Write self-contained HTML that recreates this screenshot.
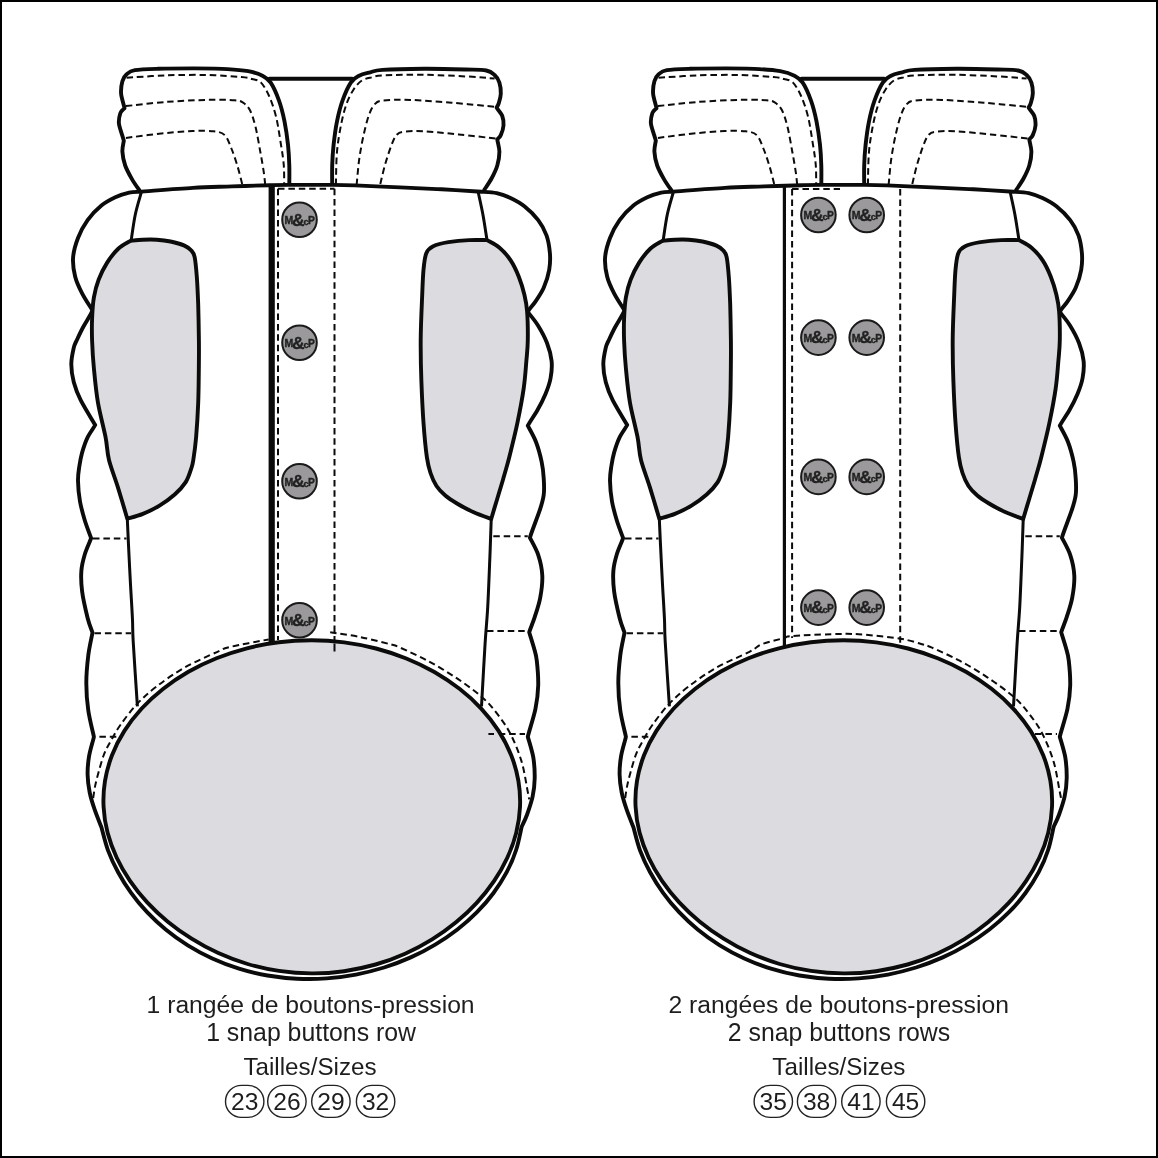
<!DOCTYPE html>
<html lang="fr"><head><meta charset="utf-8"><title>Boutons-pression</title>
<style>
html,body{margin:0;padding:0;background:#fff}
body{width:1158px;height:1158px;overflow:hidden;position:relative}
#frame{position:absolute;left:0;top:0;width:1154px;height:1154px;border:2px solid #000}
svg{position:absolute;left:0;top:0;display:block;will-change:transform}
.ol{stroke:#0b0b0b;stroke-width:3.9;stroke-linejoin:round;stroke-linecap:round}
path.ol:not([fill]){fill:none}
.il{stroke:#0b0b0b;stroke-width:3;fill:none;stroke-linecap:butt}
.ds{stroke:#0b0b0b;stroke-width:2;fill:none;stroke-dasharray:6.5 3.9}
.tx{font-family:"Liberation Sans",sans-serif;font-size:24.6px;fill:#1d1d1d}
.bt{font-family:"Liberation Sans",sans-serif;font-weight:bold;fill:#222;stroke:#222;stroke-width:.35}
</style></head><body>
<svg width="1158" height="1158" viewBox="0 0 1158 1158">
<g id="boot1">
<path d="M139.5 190.5C138.3 188.7 134.5 183.6 132.1 179.4C129.7 175.2 126.8 170.1 125.2 165.5C123.6 160.9 122.6 155.8 122.4 151.7C122.2 147.6 123.6 142.5 123.8 140.7C123 136.8 119.6 128.5 119 124.1C118.4 119.7 119.5 115.7 120.4 113C121.3 110.3 123.8 109 124.5 108.2C123.9 104.6 121.4 98 121.1 93.7C120.8 89.5 121.5 84.5 122.4 81.3C123.3 78.1 124.5 76.1 126.6 74.3C128.7 72.5 129.6 71.1 134.9 70.2C140.2 69.3 148.7 69.1 158.4 68.8C168.1 68.5 181.4 68.4 192.9 68.4C204.4 68.5 218.2 68.6 227.4 69.1C236.6 69.6 242.4 70.1 248.2 71.2C254 72.3 258.6 73.8 262.4 75.7C266.1 77.6 267.9 78.4 270.7 82.6C273.5 86.8 276.7 94.1 279 100.6C281.3 107 283 113.9 284.5 121.3C286 128.7 287.2 137.4 288 144.8C288.8 152.2 289.1 158.6 289.3 165.5C289.5 172.4 289.3 182.6 289.3 186" class="ol" fill="#fff"/>
<path d="M332.2 186C332.2 182.6 332 172.4 332.2 165.5C332.4 158.6 332.8 152.2 333.6 144.8C334.4 137.4 335.5 128.7 337 121.3C338.5 113.9 340.2 107 342.5 100.6C344.8 94.1 348 86.8 350.8 82.6C353.6 78.4 355.9 77.4 359.1 75.7C362.3 74 366.3 73.3 370.2 72.3C374.1 71.3 373.6 70.5 382.6 69.9C391.6 69.3 410.3 68.9 424.1 68.8C437.9 68.7 455.1 69.2 465.5 69.5C475.9 69.8 481.4 69.6 486.3 70.5C491.2 71.4 492.4 73 494.6 75C496.8 77 498.4 79.5 499.4 82.6C500.4 85.7 500.9 90.2 500.8 93.7C500.7 97.2 499.4 101.1 498.7 103.4C498 105.7 497 106.8 496.6 107.5C497.5 109.5 501.1 112.9 502.2 115.8C503.3 118.7 503.7 122.3 503.5 125.5C503.3 128.7 501.8 132.8 500.8 135.1C499.8 137.4 497.9 138.6 497.3 139.3C497.6 142.5 499.4 147.6 499.4 151.7C499.4 155.8 498.6 161.1 497.3 165.5C496 169.9 494 173.9 491.8 178C489.6 182.1 485.5 188 484.2 190" class="ol" fill="#fff"/>
<path d="M269.5 78.8H352.2" class="ol"/>
<path d="M126.6 77.8C133.1 77.4 152 75.9 165.3 75.4C178.7 74.9 194 74.7 206.7 75C219.4 75.3 233.8 76.4 241.3 77.1C248.9 77.8 248.7 78.1 252 79C255.3 79.9 258.1 79.7 261 82.6C263.9 85.5 266.8 90.7 269.3 96.5C271.8 102.3 274.2 109.2 276.2 117.2C278.1 125.2 279.7 136.8 281 144.8C282.3 152.9 283.3 158.8 283.8 165.5C284.3 172.2 284.1 181.8 284.2 185" class="ds"/>
<path d="M125.9 106.1C132.5 105.4 151.8 103 165.3 102C178.8 101 195.2 100.2 206.7 99.9C218.2 99.6 228.3 99.8 234.4 100.3C240.5 100.8 240.5 101 243.1 102.7C245.7 104.4 247.9 106.3 250 110.3C252.1 114.3 253.8 119.9 255.5 126.8C257.2 133.7 258.9 144.1 260.3 151.7C261.7 159.3 263 166.8 263.8 172.4C264.6 178 265 182.9 265.2 185" class="ds"/>
<path d="M125.9 137.9C132.5 137.1 154.1 134.2 165.3 133.1C176.5 131.9 184.9 131.3 192.9 131C200.9 130.7 208.3 130.6 213.6 131.3C218.9 132 221.7 132.2 224.7 135.1C227.7 138 229.5 143.9 231.6 149C233.7 154.1 235.5 159.7 237.3 165.5C239.1 171.3 241.4 180.9 242.2 184" class="ds"/>
<path d="M335.9 185C336.1 179.4 336.1 161.8 337 151.7C337.9 141.5 339.6 132.1 341.2 124.1C342.8 116 344.6 109.2 346.7 103.4C348.8 97.6 351.1 93.3 353.6 89.5C356.1 85.7 358.8 82.5 361.9 80.5C365 78.5 368.6 78.1 372 77.3C375.4 76.5 373.9 75.8 382.6 75.4C391.3 75 410.3 74.6 424.1 74.8C437.9 75 453.8 75.8 465.5 76.4C477.2 77 489.8 78.2 494.6 78.5" class="ds"/>
<path d="M356.6 185C357.1 180.6 358.1 166.9 359.3 158.6C360.5 150.3 362 142.3 363.6 135.1C365.2 127.9 367 120.5 368.8 115.5C370.6 110.5 372 107.3 374.3 104.8C376.6 102.3 376.6 101.4 382.6 100.6C388.6 99.8 398.8 99.6 410.3 99.9C421.8 100.2 437.6 101.6 451.7 102.7C465.8 103.8 487.5 106.1 494.6 106.8" class="ds"/>
<path d="M380.3 184C381.1 180.6 383.5 170 385.4 163.5C387.3 157 389.8 149.5 391.6 144.8C393.5 140.1 394.5 137.3 396.5 135.1C398.5 132.9 398.8 132.3 403.4 131.7C408 131.1 414.9 130.9 424.1 131.3C433.3 131.8 446.6 133.2 458.6 134.4C470.6 135.6 489.7 137.9 495.9 138.6" class="ds"/>
<path d="M139.4 191.7C137.7 191.9 133.1 191.8 129.1 192.7C125.1 193.6 119.9 195.2 115.3 197.3C110.7 199.5 106 201.8 101.4 205.6C96.8 209.4 91.5 214.7 87.6 220.1C83.7 225.5 80.4 231.8 78 238C75.6 244.2 73.6 250.9 73.1 257.4C72.6 263.8 73.7 270.7 75.2 276.7C76.7 282.7 79.2 287.7 82.1 293.3C85 298.9 90.8 307.6 92.5 310.5C91 314.4 86.1 321.8 83.5 326.5C80.9 331.2 78.5 336.5 76.9 340C75.3 343.5 74.7 343.6 73.8 347.6C72.9 351.6 71.3 358.4 71.3 364.2C71.3 370 72.2 376.2 73.8 382.2C75.4 388.2 77.1 393 80.7 400.1C84.3 407.2 92.8 420.9 95.2 425C93.9 427.6 89.8 432.9 87.6 437.4C85.4 441.9 83.5 447.8 82.1 452.6C80.7 457.5 80 461.8 79.3 466.5C78.6 471.2 77.9 474.9 78 480.7C78.1 486.5 78.8 494.8 80 501.5C81.2 508.2 83.1 514.7 84.9 520.8C86.8 526.9 90.1 535.2 91.1 538.1C90.1 541.3 86.5 548.7 84.9 554C83.3 559.3 81.9 564.3 81.4 570.5C80.9 576.7 81.1 583.4 82.1 591.3C83.1 599.2 85.9 611.1 87.6 618C89.3 624.9 91.7 630.1 92.5 632.5C91.8 636.9 89.3 647 88.3 655.3C87.3 663.6 86.3 673.7 86.3 682.9C86.3 692.1 87 701.5 88.3 710.5C89.6 719.5 93 732.4 93.9 736.8C93.1 740.7 90 750.4 89 756.6C88 762.8 87.5 768.5 87.6 774.5C87.7 780.5 88.5 786.7 89.7 792.5C90.9 798.3 92.5 803.3 94.5 809.1C96.5 814.9 100.3 824.4 101.5 827.5C102.6 831.3 105.3 842.9 108 850.3C110.8 857.8 114.2 865.1 118.1 872.2C121.9 879.2 126.3 886.2 131.1 892.8C135.9 899.5 141.3 906 147.1 912.2C152.9 918.3 159.2 924.3 166 929.8C172.8 935.4 180.1 940.6 187.8 945.4C195.5 950.2 203.7 954.6 212.3 958.5C220.8 962.4 229.8 965.8 239 968.6C248.2 971.5 257.8 973.8 267.5 975.5C277.1 977.1 287.1 978.2 296.9 978.7C306.8 979.2 316.8 979.1 326.7 978.4C336.5 977.7 346.4 976.4 355.9 974.6C365.5 972.7 375 970.3 384.1 967.5C393.2 964.6 402.2 961.2 410.7 957.4C419.2 953.6 427.4 949.3 435.2 944.6C443 940 450.5 934.9 457.4 929.5C464.4 924.1 471 918.3 477 912.2C483 906.1 488.6 899.7 493.5 893C498.5 886.3 502.9 879.3 506.7 872.2C510.5 865 513.7 857.6 516.1 850C518.6 842.5 520.7 830.8 521.6 827C522.5 824.9 525.3 819.6 527.1 814.5C528.9 809.4 531.3 802.6 532.6 796.6C533.9 790.6 534.6 784.7 534.7 778.2C534.8 771.7 534.4 764.3 533.3 757.4C532.1 750.5 528.7 740.2 527.8 736.7C529.1 730.9 533.7 717.4 535.4 709.1C537.1 700.8 538 693.7 538.2 685.6C538.4 677.5 537.5 667 536.8 660.7C536.1 654.4 535.3 652.7 534 648C532.7 643.3 530 634.9 529.2 632.3C530.1 629.2 532.9 622.7 534.7 617.1C536.5 611.5 538.9 604.7 540.2 597.8C541.5 590.9 542.6 582.9 542.3 575.7C542 568.6 540.3 561.2 538.2 554.9C536.1 548.6 531.3 540.6 529.9 537.7C531.5 532 537.3 517.6 539.6 510.7C541.9 503.8 543 500.4 543.7 495C544.4 489.6 544.1 483.8 543.7 478.2C543.4 472.6 542.9 467.6 541.6 461.6C540.3 455.6 538.4 448.2 536.1 442.2C533.8 436.2 529.2 428.4 527.8 425.7C529.4 422.5 534.5 415.2 537.5 410C540.5 404.8 543.3 399.3 545.5 394C547.7 388.7 549.6 383.5 550.6 378C551.6 372.5 552.2 366.8 551.6 361C551 355.2 549.3 348.9 547 343C544.7 337.1 541.2 330.7 538 325.5C534.8 320.3 529.5 314.2 527.8 312C529.1 309 532.8 305.4 535.4 301.6C538 297.8 541.4 293.1 543.7 287.8C546 282.5 548.2 275.6 549.2 269.8C550.2 264 550.4 258.9 549.9 253.2C549.4 247.4 548.5 240.8 546.5 235.3C544.5 229.8 541.9 224.9 538.2 220.1C534.5 215.3 529 210 524.4 206.3C519.8 202.6 515.1 200.2 510.5 198C505.9 195.8 501.5 194.2 496.7 193.1C491.9 192 484 191.9 481.5 191.7C474.8 191.3 455.1 190 441.5 189.3C427.9 188.6 414.4 188.1 400 187.4C385.6 186.8 366.3 185.8 355 185.4C343.7 185 343 185 332 184.9C321 184.8 299.3 184.9 289 184.9C278.7 184.9 279.5 184.9 270 185.2C260.5 185.4 244.8 185.9 232 186.4C219.2 186.9 208.3 187 192.9 187.9C177.5 188.8 148.3 191.1 139.4 191.7Z" class="ol" fill="#fff"/>
<path d="M130.5 240.8C132.6 240.6 138.5 239.9 142.9 239.7C147.3 239.5 152.1 239.4 156.7 239.7C161.3 240 165.9 240.5 170.5 241.5C175.1 242.5 180.9 244.1 184.4 245.6C187.9 247.1 189.6 248.5 191.3 250.5C193 252.5 193.8 253 194.7 257.4C195.6 261.8 196.2 268.9 196.8 276.7C197.4 284.5 197.8 293.8 198.2 304.4C198.5 314.9 198.8 330.5 198.9 340C199 349.5 199 351 198.9 361.5C198.8 372 198.7 390.2 198.2 402.9C197.7 415.5 196.9 427.9 196.1 437.4C195.3 446.9 194.1 454.9 193.3 460C192.5 465.1 192.6 464.6 191.3 468.3C190 472 188.5 477.7 185.7 482.1C182.9 486.5 179.1 490.6 174.7 494.5C170.3 498.4 164.8 502.4 159.5 505.6C154.2 508.8 148.3 511.7 142.9 513.9C137.5 516.1 129.9 517.9 127.3 518.7C125.8 513.5 121 497.4 118 487.6C115 477.8 111.1 468.4 109 460C106.9 451.6 107.4 446.9 105.6 437.4C103.8 427.9 100 414.4 98 402.9C96 391.4 94.9 378.8 93.9 368.4C92.9 358 92.4 349.1 92.1 340.7C91.8 332.3 91.8 325.4 92.1 318.2C92.4 311 92.8 303.8 93.9 297.4C95 290.9 96.5 285.2 98.7 279.5C100.9 273.8 103.8 268 107 262.9C110.2 257.8 114.1 252.7 118 249C121.9 245.3 128.4 242.2 130.5 240.8Z" class="ol" fill="#dcdbdf"/>
<path d="M487 240.1C484 240.1 475.5 239.8 469.1 240.1C462.7 240.4 454.4 241.2 448.4 242.2C442.4 243.2 436.9 244.5 433.2 246.3C429.5 248.1 427.9 249.3 426.3 253.2C424.7 257.1 424.2 262.4 423.5 269.8C422.8 277.2 422.6 285.7 422.1 297.4C421.6 309.1 420.8 326 420.7 340C420.6 354 420.9 367.7 421.4 381.5C421.9 395.3 422.6 410.2 423.5 422.9C424.4 435.5 425.7 449 426.9 457.4C428.1 465.8 428.9 468.2 430.5 473C432.1 477.8 434 482.2 436.5 486C439 489.8 441.9 492.6 445.3 495.5C448.7 498.4 452.4 500.7 457 503.5C461.6 506.3 467.5 509.5 473.2 512.1C478.9 514.7 488.2 517.9 491.2 519C492.1 515.8 494.9 506.5 496.9 500C498.8 493.5 500.8 487.1 502.9 480C504.9 472.9 506.8 466.9 509.2 457.4C511.6 447.9 515 434.4 517.4 422.9C519.8 411.4 522.2 398.8 523.7 388.4C525.2 378 525.7 368.8 526.4 360.7C527.1 352.6 527.7 348.2 527.8 340C527.9 331.8 527.7 318.9 527.1 311.3C526.5 303.8 525.8 300.5 524.4 294.7C523 288.9 521.1 282.5 518.8 276.7C516.5 270.9 513.7 264.9 510.5 260.1C507.3 255.3 503.4 251 499.5 247.7C495.6 244.4 489.1 241.4 487 240.1Z" class="ol" fill="#dcdbdf"/>
<path d="M141.5 191.7C140.5 195.5 137 206.4 135.3 214.5C133.6 222.6 131.9 235.8 131.2 240" class="il"/>
<path d="M127.3 518.7C127.5 522.7 127.9 532 128.4 542.9C128.9 553.8 129.8 571.5 130.5 584.4C131.2 597.2 132.1 610.5 132.5 620C132.9 629.5 132.4 627.1 133.2 641.5C134 655.9 136.7 695.6 137.4 706.4" class="il"/>
<path d="M478.1 191.7C478.9 195.5 481.4 206.4 482.9 214.5C484.4 222.6 486.3 235.8 487 240" class="il"/>
<path d="M491.2 519.7C491 526.3 490.4 544.5 489.8 559.1C489.2 573.7 488.5 593.1 487.7 607.4C486.9 621.7 486 628.5 485 645C484 661.5 482.1 696.1 481.5 706.3" class="il"/>
<path d="M93 538.5H126.5M94.5 633.2H131M99.4 736.8H118" class="ds"/>
<path d="M493.3 536.3H527.8M487 630.9H527.1M488.4 734H525" class="ds"/>
<path d="M271.7 186V643" stroke="#0b0b0b" stroke-width="6.2" fill="none"/>
<path d="M278 188.7V640" class="ds"/>
<path d="M334.5 188.7V651.5" class="ds"/>
<path d="M278 188.7H334.5" class="ds"/>
<path d="M93.2 798C93.5 795.9 94.3 790 95.2 785.6C96.1 781.2 97.2 777.1 98.7 771.8C100.2 766.5 102.2 758.8 104.2 753.8C106.2 748.8 107.7 746.4 110.5 741.5C113.3 736.6 116.3 730.7 120.8 724.4C125.3 718.1 131.4 709.9 137.4 703.6C143.4 697.3 148.9 692.4 156.7 686.4C164.5 680.4 174.3 673.5 184.4 667.7C194.5 661.9 209.9 655.2 217.5 651.8C225.1 648.3 221.5 649.1 230 647C238.5 644.9 262.2 640.7 268.7 639.4" class="ds"/>
<path d="M330.2 632.2C335.2 633 350 635 360 637C370 639 383.3 642.4 390 644.2C396.7 646 393.7 644.9 400 647.6C406.3 650.4 418.4 655.8 427.6 660.7C436.8 665.7 446.3 671.3 455.3 677.3C464.3 683.3 474.6 690.7 481.5 696.7C488.4 702.7 491.9 707 496.7 713.2C501.5 719.4 506.4 725.9 510.5 734C514.6 742.1 518.7 751.9 521.6 761.6C524.5 771.3 526.5 785.7 527.8 792C529.1 798.3 529 798.1 529.2 799.3" class="ds"/>
<path d="M520 807C519.7 815.7 518.3 824.4 516.2 832.9C514.1 841.3 511 849.7 507.3 857.8C503.6 865.8 499.1 873.7 494 881.2C488.9 888.7 483.1 896 476.7 902.8C470.4 909.7 463.4 916.2 456 922.3C448.5 928.4 440.5 934.2 432.1 939.4C423.6 944.7 414.6 949.5 405.1 953.7C395.7 957.9 385.8 961.6 375.6 964.5C365.4 967.4 354.8 969.7 344.1 971.2C333.4 972.7 322.4 973.5 311.5 973.4C300.6 973.4 289.6 972.5 279 970.9C268.3 969.4 257.7 967 247.6 964C237.5 961 227.6 957.2 218.3 953C208.9 948.8 200 944 191.6 938.7C183.2 933.5 175.2 927.7 167.8 921.7C160.4 915.6 153.5 909.1 147.2 902.3C140.9 895.5 135.1 888.3 130 880.8C124.9 873.4 120.3 865.5 116.6 857.5C112.9 849.5 109.8 841.2 107.6 832.8C105.4 824.4 104 815.6 103.6 807C103.1 798.4 103.6 789.5 105 780.9C106.4 772.3 108.8 763.6 112 755.3C115.2 746.9 119.4 738.7 124.4 730.9C129.3 723.1 135.2 715.6 141.7 708.5C148.2 701.5 155.5 694.8 163.3 688.7C171.1 682.6 179.6 676.9 188.4 671.8C197.3 666.7 206.8 662.2 216.5 658.3C226.3 654.3 236.5 651 246.9 648.3C257.3 645.7 268 643.6 278.8 642.3C289.6 640.9 300.6 640.3 311.5 640.3C322.4 640.3 333.4 641 344.2 642.4C354.9 643.8 365.7 645.8 376 648.5C386.4 651.2 396.6 654.6 406.3 658.5C416 662.4 425.5 667 434.4 672C443.2 677.1 451.7 682.8 459.5 688.8C467.4 694.9 474.7 701.6 481.2 708.6C487.7 715.6 493.6 723.1 498.6 730.9C503.6 738.7 507.9 746.9 511.2 755.2C514.5 763.5 516.9 772.2 518.4 780.8C519.9 789.5 520.4 798.3 520 807Z" class="ol" fill="#dcdbdf"/>
<path d="M334.5 643.5V651.5M488.4 734H494" class="ds" style="stroke-dasharray:none"/>
<g transform="translate(299.5 219.7)"><circle r="17.3" fill="#9b999c" stroke="#1a1a1a" stroke-width="2"/><text class="bt"><tspan x="-14.9" y="4.4" font-size="10.5">M</tspan><tspan x="-7.4" y="5.8" font-size="17.4">&amp;</tspan><tspan x="4.1" y="5.3" font-size="9.3">c</tspan><tspan x="8.5" y="4.4" font-size="10.2">P</tspan></text></g>
<g transform="translate(299.5 342.8)"><circle r="17.3" fill="#9b999c" stroke="#1a1a1a" stroke-width="2"/><text class="bt"><tspan x="-14.9" y="4.4" font-size="10.5">M</tspan><tspan x="-7.4" y="5.8" font-size="17.4">&amp;</tspan><tspan x="4.1" y="5.3" font-size="9.3">c</tspan><tspan x="8.5" y="4.4" font-size="10.2">P</tspan></text></g>
<g transform="translate(299.5 481.3)"><circle r="17.3" fill="#9b999c" stroke="#1a1a1a" stroke-width="2"/><text class="bt"><tspan x="-14.9" y="4.4" font-size="10.5">M</tspan><tspan x="-7.4" y="5.8" font-size="17.4">&amp;</tspan><tspan x="4.1" y="5.3" font-size="9.3">c</tspan><tspan x="8.5" y="4.4" font-size="10.2">P</tspan></text></g>
<g transform="translate(299.5 620.3)"><circle r="17.3" fill="#9b999c" stroke="#1a1a1a" stroke-width="2"/><text class="bt"><tspan x="-14.9" y="4.4" font-size="10.5">M</tspan><tspan x="-7.4" y="5.8" font-size="17.4">&amp;</tspan><tspan x="4.1" y="5.3" font-size="9.3">c</tspan><tspan x="8.5" y="4.4" font-size="10.2">P</tspan></text></g>
</g>
<g id="boot2" transform="translate(532 0)">
<path d="M139.5 190.5C138.3 188.7 134.5 183.6 132.1 179.4C129.7 175.2 126.8 170.1 125.2 165.5C123.6 160.9 122.6 155.8 122.4 151.7C122.2 147.6 123.6 142.5 123.8 140.7C123 136.8 119.6 128.5 119 124.1C118.4 119.7 119.5 115.7 120.4 113C121.3 110.3 123.8 109 124.5 108.2C123.9 104.6 121.4 98 121.1 93.7C120.8 89.5 121.5 84.5 122.4 81.3C123.3 78.1 124.5 76.1 126.6 74.3C128.7 72.5 129.6 71.1 134.9 70.2C140.2 69.3 148.7 69.1 158.4 68.8C168.1 68.5 181.4 68.4 192.9 68.4C204.4 68.5 218.2 68.6 227.4 69.1C236.6 69.6 242.4 70.1 248.2 71.2C254 72.3 258.6 73.8 262.4 75.7C266.1 77.6 267.9 78.4 270.7 82.6C273.5 86.8 276.7 94.1 279 100.6C281.3 107 283 113.9 284.5 121.3C286 128.7 287.2 137.4 288 144.8C288.8 152.2 289.1 158.6 289.3 165.5C289.5 172.4 289.3 182.6 289.3 186" class="ol" fill="#fff"/>
<path d="M332.2 186C332.2 182.6 332 172.4 332.2 165.5C332.4 158.6 332.8 152.2 333.6 144.8C334.4 137.4 335.5 128.7 337 121.3C338.5 113.9 340.2 107 342.5 100.6C344.8 94.1 348 86.8 350.8 82.6C353.6 78.4 355.9 77.4 359.1 75.7C362.3 74 366.3 73.3 370.2 72.3C374.1 71.3 373.6 70.5 382.6 69.9C391.6 69.3 410.3 68.9 424.1 68.8C437.9 68.7 455.1 69.2 465.5 69.5C475.9 69.8 481.4 69.6 486.3 70.5C491.2 71.4 492.4 73 494.6 75C496.8 77 498.4 79.5 499.4 82.6C500.4 85.7 500.9 90.2 500.8 93.7C500.7 97.2 499.4 101.1 498.7 103.4C498 105.7 497 106.8 496.6 107.5C497.5 109.5 501.1 112.9 502.2 115.8C503.3 118.7 503.7 122.3 503.5 125.5C503.3 128.7 501.8 132.8 500.8 135.1C499.8 137.4 497.9 138.6 497.3 139.3C497.6 142.5 499.4 147.6 499.4 151.7C499.4 155.8 498.6 161.1 497.3 165.5C496 169.9 494 173.9 491.8 178C489.6 182.1 485.5 188 484.2 190" class="ol" fill="#fff"/>
<path d="M269.5 78.8H352.2" class="ol"/>
<path d="M126.6 77.8C133.1 77.4 152 75.9 165.3 75.4C178.7 74.9 194 74.7 206.7 75C219.4 75.3 233.8 76.4 241.3 77.1C248.9 77.8 248.7 78.1 252 79C255.3 79.9 258.1 79.7 261 82.6C263.9 85.5 266.8 90.7 269.3 96.5C271.8 102.3 274.2 109.2 276.2 117.2C278.1 125.2 279.7 136.8 281 144.8C282.3 152.9 283.3 158.8 283.8 165.5C284.3 172.2 284.1 181.8 284.2 185" class="ds"/>
<path d="M125.9 106.1C132.5 105.4 151.8 103 165.3 102C178.8 101 195.2 100.2 206.7 99.9C218.2 99.6 228.3 99.8 234.4 100.3C240.5 100.8 240.5 101 243.1 102.7C245.7 104.4 247.9 106.3 250 110.3C252.1 114.3 253.8 119.9 255.5 126.8C257.2 133.7 258.9 144.1 260.3 151.7C261.7 159.3 263 166.8 263.8 172.4C264.6 178 265 182.9 265.2 185" class="ds"/>
<path d="M125.9 137.9C132.5 137.1 154.1 134.2 165.3 133.1C176.5 131.9 184.9 131.3 192.9 131C200.9 130.7 208.3 130.6 213.6 131.3C218.9 132 221.7 132.2 224.7 135.1C227.7 138 229.5 143.9 231.6 149C233.7 154.1 235.5 159.7 237.3 165.5C239.1 171.3 241.4 180.9 242.2 184" class="ds"/>
<path d="M335.9 185C336.1 179.4 336.1 161.8 337 151.7C337.9 141.5 339.6 132.1 341.2 124.1C342.8 116 344.6 109.2 346.7 103.4C348.8 97.6 351.1 93.3 353.6 89.5C356.1 85.7 358.8 82.5 361.9 80.5C365 78.5 368.6 78.1 372 77.3C375.4 76.5 373.9 75.8 382.6 75.4C391.3 75 410.3 74.6 424.1 74.8C437.9 75 453.8 75.8 465.5 76.4C477.2 77 489.8 78.2 494.6 78.5" class="ds"/>
<path d="M356.6 185C357.1 180.6 358.1 166.9 359.3 158.6C360.5 150.3 362 142.3 363.6 135.1C365.2 127.9 367 120.5 368.8 115.5C370.6 110.5 372 107.3 374.3 104.8C376.6 102.3 376.6 101.4 382.6 100.6C388.6 99.8 398.8 99.6 410.3 99.9C421.8 100.2 437.6 101.6 451.7 102.7C465.8 103.8 487.5 106.1 494.6 106.8" class="ds"/>
<path d="M380.3 184C381.1 180.6 383.5 170 385.4 163.5C387.3 157 389.8 149.5 391.6 144.8C393.5 140.1 394.5 137.3 396.5 135.1C398.5 132.9 398.8 132.3 403.4 131.7C408 131.1 414.9 130.9 424.1 131.3C433.3 131.8 446.6 133.2 458.6 134.4C470.6 135.6 489.7 137.9 495.9 138.6" class="ds"/>
<path d="M139.4 191.7C137.7 191.9 133.1 191.8 129.1 192.7C125.1 193.6 119.9 195.2 115.3 197.3C110.7 199.5 106 201.8 101.4 205.6C96.8 209.4 91.5 214.7 87.6 220.1C83.7 225.5 80.4 231.8 78 238C75.6 244.2 73.6 250.9 73.1 257.4C72.6 263.8 73.7 270.7 75.2 276.7C76.7 282.7 79.2 287.7 82.1 293.3C85 298.9 90.8 307.6 92.5 310.5C91 314.4 86.1 321.8 83.5 326.5C80.9 331.2 78.5 336.5 76.9 340C75.3 343.5 74.7 343.6 73.8 347.6C72.9 351.6 71.3 358.4 71.3 364.2C71.3 370 72.2 376.2 73.8 382.2C75.4 388.2 77.1 393 80.7 400.1C84.3 407.2 92.8 420.9 95.2 425C93.9 427.6 89.8 432.9 87.6 437.4C85.4 441.9 83.5 447.8 82.1 452.6C80.7 457.5 80 461.8 79.3 466.5C78.6 471.2 77.9 474.9 78 480.7C78.1 486.5 78.8 494.8 80 501.5C81.2 508.2 83.1 514.7 84.9 520.8C86.8 526.9 90.1 535.2 91.1 538.1C90.1 541.3 86.5 548.7 84.9 554C83.3 559.3 81.9 564.3 81.4 570.5C80.9 576.7 81.1 583.4 82.1 591.3C83.1 599.2 85.9 611.1 87.6 618C89.3 624.9 91.7 630.1 92.5 632.5C91.8 636.9 89.3 647 88.3 655.3C87.3 663.6 86.3 673.7 86.3 682.9C86.3 692.1 87 701.5 88.3 710.5C89.6 719.5 93 732.4 93.9 736.8C93.1 740.7 90 750.4 89 756.6C88 762.8 87.5 768.5 87.6 774.5C87.7 780.5 88.5 786.7 89.7 792.5C90.9 798.3 92.5 803.3 94.5 809.1C96.5 814.9 100.3 824.4 101.5 827.5C102.6 831.3 105.3 842.9 108 850.3C110.8 857.8 114.2 865.1 118.1 872.2C121.9 879.2 126.3 886.2 131.1 892.8C135.9 899.5 141.3 906 147.1 912.2C152.9 918.3 159.2 924.3 166 929.8C172.8 935.4 180.1 940.6 187.8 945.4C195.5 950.2 203.7 954.6 212.3 958.5C220.8 962.4 229.8 965.8 239 968.6C248.2 971.5 257.8 973.8 267.5 975.5C277.1 977.1 287.1 978.2 296.9 978.7C306.8 979.2 316.8 979.1 326.7 978.4C336.5 977.7 346.4 976.4 355.9 974.6C365.5 972.7 375 970.3 384.1 967.5C393.2 964.6 402.2 961.2 410.7 957.4C419.2 953.6 427.4 949.3 435.2 944.6C443 940 450.5 934.9 457.4 929.5C464.4 924.1 471 918.3 477 912.2C483 906.1 488.6 899.7 493.5 893C498.5 886.3 502.9 879.3 506.7 872.2C510.5 865 513.7 857.6 516.1 850C518.6 842.5 520.7 830.8 521.6 827C522.5 824.9 525.3 819.6 527.1 814.5C528.9 809.4 531.3 802.6 532.6 796.6C533.9 790.6 534.6 784.7 534.7 778.2C534.8 771.7 534.4 764.3 533.3 757.4C532.1 750.5 528.7 740.2 527.8 736.7C529.1 730.9 533.7 717.4 535.4 709.1C537.1 700.8 538 693.7 538.2 685.6C538.4 677.5 537.5 667 536.8 660.7C536.1 654.4 535.3 652.7 534 648C532.7 643.3 530 634.9 529.2 632.3C530.1 629.2 532.9 622.7 534.7 617.1C536.5 611.5 538.9 604.7 540.2 597.8C541.5 590.9 542.6 582.9 542.3 575.7C542 568.6 540.3 561.2 538.2 554.9C536.1 548.6 531.3 540.6 529.9 537.7C531.5 532 537.3 517.6 539.6 510.7C541.9 503.8 543 500.4 543.7 495C544.4 489.6 544.1 483.8 543.7 478.2C543.4 472.6 542.9 467.6 541.6 461.6C540.3 455.6 538.4 448.2 536.1 442.2C533.8 436.2 529.2 428.4 527.8 425.7C529.4 422.5 534.5 415.2 537.5 410C540.5 404.8 543.3 399.3 545.5 394C547.7 388.7 549.6 383.5 550.6 378C551.6 372.5 552.2 366.8 551.6 361C551 355.2 549.3 348.9 547 343C544.7 337.1 541.2 330.7 538 325.5C534.8 320.3 529.5 314.2 527.8 312C529.1 309 532.8 305.4 535.4 301.6C538 297.8 541.4 293.1 543.7 287.8C546 282.5 548.2 275.6 549.2 269.8C550.2 264 550.4 258.9 549.9 253.2C549.4 247.4 548.5 240.8 546.5 235.3C544.5 229.8 541.9 224.9 538.2 220.1C534.5 215.3 529 210 524.4 206.3C519.8 202.6 515.1 200.2 510.5 198C505.9 195.8 501.5 194.2 496.7 193.1C491.9 192 484 191.9 481.5 191.7C474.8 191.3 455.1 190 441.5 189.3C427.9 188.6 414.4 188.1 400 187.4C385.6 186.8 366.3 185.8 355 185.4C343.7 185 343 185 332 184.9C321 184.8 299.3 184.9 289 184.9C278.7 184.9 279.5 184.9 270 185.2C260.5 185.4 244.8 185.9 232 186.4C219.2 186.9 208.3 187 192.9 187.9C177.5 188.8 148.3 191.1 139.4 191.7Z" class="ol" fill="#fff"/>
<path d="M130.5 240.8C132.6 240.6 138.5 239.9 142.9 239.7C147.3 239.5 152.1 239.4 156.7 239.7C161.3 240 165.9 240.5 170.5 241.5C175.1 242.5 180.9 244.1 184.4 245.6C187.9 247.1 189.6 248.5 191.3 250.5C193 252.5 193.8 253 194.7 257.4C195.6 261.8 196.2 268.9 196.8 276.7C197.4 284.5 197.8 293.8 198.2 304.4C198.5 314.9 198.8 330.5 198.9 340C199 349.5 199 351 198.9 361.5C198.8 372 198.7 390.2 198.2 402.9C197.7 415.5 196.9 427.9 196.1 437.4C195.3 446.9 194.1 454.9 193.3 460C192.5 465.1 192.6 464.6 191.3 468.3C190 472 188.5 477.7 185.7 482.1C182.9 486.5 179.1 490.6 174.7 494.5C170.3 498.4 164.8 502.4 159.5 505.6C154.2 508.8 148.3 511.7 142.9 513.9C137.5 516.1 129.9 517.9 127.3 518.7C125.8 513.5 121 497.4 118 487.6C115 477.8 111.1 468.4 109 460C106.9 451.6 107.4 446.9 105.6 437.4C103.8 427.9 100 414.4 98 402.9C96 391.4 94.9 378.8 93.9 368.4C92.9 358 92.4 349.1 92.1 340.7C91.8 332.3 91.8 325.4 92.1 318.2C92.4 311 92.8 303.8 93.9 297.4C95 290.9 96.5 285.2 98.7 279.5C100.9 273.8 103.8 268 107 262.9C110.2 257.8 114.1 252.7 118 249C121.9 245.3 128.4 242.2 130.5 240.8Z" class="ol" fill="#dcdbdf"/>
<path d="M487 240.1C484 240.1 475.5 239.8 469.1 240.1C462.7 240.4 454.4 241.2 448.4 242.2C442.4 243.2 436.9 244.5 433.2 246.3C429.5 248.1 427.9 249.3 426.3 253.2C424.7 257.1 424.2 262.4 423.5 269.8C422.8 277.2 422.6 285.7 422.1 297.4C421.6 309.1 420.8 326 420.7 340C420.6 354 420.9 367.7 421.4 381.5C421.9 395.3 422.6 410.2 423.5 422.9C424.4 435.5 425.7 449 426.9 457.4C428.1 465.8 428.9 468.2 430.5 473C432.1 477.8 434 482.2 436.5 486C439 489.8 441.9 492.6 445.3 495.5C448.7 498.4 452.4 500.7 457 503.5C461.6 506.3 467.5 509.5 473.2 512.1C478.9 514.7 488.2 517.9 491.2 519C492.1 515.8 494.9 506.5 496.9 500C498.8 493.5 500.8 487.1 502.9 480C504.9 472.9 506.8 466.9 509.2 457.4C511.6 447.9 515 434.4 517.4 422.9C519.8 411.4 522.2 398.8 523.7 388.4C525.2 378 525.7 368.8 526.4 360.7C527.1 352.6 527.7 348.2 527.8 340C527.9 331.8 527.7 318.9 527.1 311.3C526.5 303.8 525.8 300.5 524.4 294.7C523 288.9 521.1 282.5 518.8 276.7C516.5 270.9 513.7 264.9 510.5 260.1C507.3 255.3 503.4 251 499.5 247.7C495.6 244.4 489.1 241.4 487 240.1Z" class="ol" fill="#dcdbdf"/>
<path d="M141.5 191.7C140.5 195.5 137 206.4 135.3 214.5C133.6 222.6 131.9 235.8 131.2 240" class="il"/>
<path d="M127.3 518.7C127.5 522.7 127.9 532 128.4 542.9C128.9 553.8 129.8 571.5 130.5 584.4C131.2 597.2 132.1 610.5 132.5 620C132.9 629.5 132.4 627.1 133.2 641.5C134 655.9 136.7 695.6 137.4 706.4" class="il"/>
<path d="M478.1 191.7C478.9 195.5 481.4 206.4 482.9 214.5C484.4 222.6 486.3 235.8 487 240" class="il"/>
<path d="M491.2 519.7C491 526.3 490.4 544.5 489.8 559.1C489.2 573.7 488.5 593.1 487.7 607.4C486.9 621.7 486 628.5 485 645C484 661.5 482.1 696.1 481.5 706.3" class="il"/>
<path d="M93 538.5H126.5M94.5 633.2H131M99.4 736.8H118" class="ds"/>
<path d="M493.3 536.3H527.8M487 630.9H527.1M503 734H525" class="ds"/>
<path d="M252.4 186V647" class="il" style="stroke-width:3.2"/>
<path d="M260.1 189V638" class="ds"/>
<path d="M368.2 189V643" class="ds"/>
<path d="M260.1 189H308" class="ds"/>
<path d="M93.2 798C93.5 795.9 94.3 790 95.2 785.6C96.1 781.2 97.2 777.1 98.7 771.8C100.2 766.5 102.2 758.8 104.2 753.8C106.2 748.8 107.7 746.4 110.5 741.5C113.3 736.6 116.3 730.7 120.8 724.4C125.3 718.1 131.4 709.9 137.4 703.6C143.4 697.3 148.9 692.4 156.7 686.4C164.5 680.4 174.3 673.5 184.4 667.7C194.5 661.9 209.9 655.7 217.5 651.8C225.1 647.9 224.2 646.5 230 644.2C235.8 641.9 247.1 639.4 252.1 638C257.1 636.6 252.2 636.6 260 636C267.8 635.4 287.9 634.5 299 634.2C310.1 633.9 315.2 633.5 326.7 634.2C338.2 635 357.6 637 368.2 638.7C378.8 640.4 384.7 642.7 390 644.2C395.3 645.7 393.7 644.9 400 647.6C406.3 650.4 418.4 655.8 427.6 660.7C436.8 665.7 446.3 671.3 455.3 677.3C464.3 683.3 474.6 690.7 481.5 696.7C488.4 702.7 491.9 707 496.7 713.2C501.5 719.4 506.4 725.9 510.5 734C514.6 742.1 518.7 751.9 521.6 761.6C524.5 771.3 526.5 785.7 527.8 792C529.1 798.3 529 798.1 529.2 799.3" class="ds"/>
<path d="M520 807C519.7 815.7 518.3 824.4 516.2 832.9C514.1 841.3 511 849.7 507.3 857.8C503.6 865.8 499.1 873.7 494 881.2C488.9 888.7 483.1 896 476.7 902.8C470.4 909.7 463.4 916.2 456 922.3C448.5 928.4 440.5 934.2 432.1 939.4C423.6 944.7 414.6 949.5 405.1 953.7C395.7 957.9 385.8 961.6 375.6 964.5C365.4 967.4 354.8 969.7 344.1 971.2C333.4 972.7 322.4 973.5 311.5 973.4C300.6 973.4 289.6 972.5 279 970.9C268.3 969.4 257.7 967 247.6 964C237.5 961 227.6 957.2 218.3 953C208.9 948.8 200 944 191.6 938.7C183.2 933.5 175.2 927.7 167.8 921.7C160.4 915.6 153.5 909.1 147.2 902.3C140.9 895.5 135.1 888.3 130 880.8C124.9 873.4 120.3 865.5 116.6 857.5C112.9 849.5 109.8 841.2 107.6 832.8C105.4 824.4 104 815.6 103.6 807C103.1 798.4 103.6 789.5 105 780.9C106.4 772.3 108.8 763.6 112 755.3C115.2 746.9 119.4 738.7 124.4 730.9C129.3 723.1 135.2 715.6 141.7 708.5C148.2 701.5 155.5 694.8 163.3 688.7C171.1 682.6 179.6 676.9 188.4 671.8C197.3 666.7 206.8 662.2 216.5 658.3C226.3 654.3 236.5 651 246.9 648.3C257.3 645.7 268 643.6 278.8 642.3C289.6 640.9 300.6 640.3 311.5 640.3C322.4 640.3 333.4 641 344.2 642.4C354.9 643.8 365.7 645.8 376 648.5C386.4 651.2 396.6 654.6 406.3 658.5C416 662.4 425.5 667 434.4 672C443.2 677.1 451.7 682.8 459.5 688.8C467.4 694.9 474.7 701.6 481.2 708.6C487.7 715.6 493.6 723.1 498.6 730.9C503.6 738.7 507.9 746.9 511.2 755.2C514.5 763.5 516.9 772.2 518.4 780.8C519.9 789.5 520.4 798.3 520 807Z" class="ol" fill="#dcdbdf"/>
<g transform="translate(286.4 215)"><circle r="17.3" fill="#9b999c" stroke="#1a1a1a" stroke-width="2"/><text class="bt"><tspan x="-14.9" y="4.4" font-size="10.5">M</tspan><tspan x="-7.4" y="5.8" font-size="17.4">&amp;</tspan><tspan x="4.1" y="5.3" font-size="9.3">c</tspan><tspan x="8.5" y="4.4" font-size="10.2">P</tspan></text></g>
<g transform="translate(334.7 215)"><circle r="17.3" fill="#9b999c" stroke="#1a1a1a" stroke-width="2"/><text class="bt"><tspan x="-14.9" y="4.4" font-size="10.5">M</tspan><tspan x="-7.4" y="5.8" font-size="17.4">&amp;</tspan><tspan x="4.1" y="5.3" font-size="9.3">c</tspan><tspan x="8.5" y="4.4" font-size="10.2">P</tspan></text></g>
<g transform="translate(286.4 337.6)"><circle r="17.3" fill="#9b999c" stroke="#1a1a1a" stroke-width="2"/><text class="bt"><tspan x="-14.9" y="4.4" font-size="10.5">M</tspan><tspan x="-7.4" y="5.8" font-size="17.4">&amp;</tspan><tspan x="4.1" y="5.3" font-size="9.3">c</tspan><tspan x="8.5" y="4.4" font-size="10.2">P</tspan></text></g>
<g transform="translate(334.7 337.6)"><circle r="17.3" fill="#9b999c" stroke="#1a1a1a" stroke-width="2"/><text class="bt"><tspan x="-14.9" y="4.4" font-size="10.5">M</tspan><tspan x="-7.4" y="5.8" font-size="17.4">&amp;</tspan><tspan x="4.1" y="5.3" font-size="9.3">c</tspan><tspan x="8.5" y="4.4" font-size="10.2">P</tspan></text></g>
<g transform="translate(286.4 476.9)"><circle r="17.3" fill="#9b999c" stroke="#1a1a1a" stroke-width="2"/><text class="bt"><tspan x="-14.9" y="4.4" font-size="10.5">M</tspan><tspan x="-7.4" y="5.8" font-size="17.4">&amp;</tspan><tspan x="4.1" y="5.3" font-size="9.3">c</tspan><tspan x="8.5" y="4.4" font-size="10.2">P</tspan></text></g>
<g transform="translate(334.7 476.9)"><circle r="17.3" fill="#9b999c" stroke="#1a1a1a" stroke-width="2"/><text class="bt"><tspan x="-14.9" y="4.4" font-size="10.5">M</tspan><tspan x="-7.4" y="5.8" font-size="17.4">&amp;</tspan><tspan x="4.1" y="5.3" font-size="9.3">c</tspan><tspan x="8.5" y="4.4" font-size="10.2">P</tspan></text></g>
<g transform="translate(286.4 607.6)"><circle r="17.3" fill="#9b999c" stroke="#1a1a1a" stroke-width="2"/><text class="bt"><tspan x="-14.9" y="4.4" font-size="10.5">M</tspan><tspan x="-7.4" y="5.8" font-size="17.4">&amp;</tspan><tspan x="4.1" y="5.3" font-size="9.3">c</tspan><tspan x="8.5" y="4.4" font-size="10.2">P</tspan></text></g>
<g transform="translate(334.7 607.6)"><circle r="17.3" fill="#9b999c" stroke="#1a1a1a" stroke-width="2"/><text class="bt"><tspan x="-14.9" y="4.4" font-size="10.5">M</tspan><tspan x="-7.4" y="5.8" font-size="17.4">&amp;</tspan><tspan x="4.1" y="5.3" font-size="9.3">c</tspan><tspan x="8.5" y="4.4" font-size="10.2">P</tspan></text></g>
</g>
<g id="labels">
<text x="310.6" y="1012.6" text-anchor="middle" class="tx" style="font-size:24.7px">1 rangée de boutons-pression</text>
<text x="311.1" y="1040.6" text-anchor="middle" class="tx" style="font-size:24.85px">1 snap buttons row</text>
<text x="310" y="1074.7" text-anchor="middle" class="tx" style="font-size:24.2px">Tailles/Sizes</text>
<rect x="225.5" y="1085.4" width="38.4" height="32" rx="16" ry="16" fill="#fff" stroke="#222" stroke-width="1.4"/>
<text x="244.7" y="1109.9" text-anchor="middle" class="tx">23</text>
<rect x="267.7" y="1085.4" width="38.4" height="32" rx="16" ry="16" fill="#fff" stroke="#222" stroke-width="1.4"/>
<text x="286.9" y="1109.9" text-anchor="middle" class="tx">26</text>
<rect x="311.7" y="1085.4" width="38.4" height="32" rx="16" ry="16" fill="#fff" stroke="#222" stroke-width="1.4"/>
<text x="330.9" y="1109.9" text-anchor="middle" class="tx">29</text>
<rect x="356.4" y="1085.4" width="38.4" height="32" rx="16" ry="16" fill="#fff" stroke="#222" stroke-width="1.4"/>
<text x="375.6" y="1109.9" text-anchor="middle" class="tx">32</text>
<text x="838.7" y="1012.6" text-anchor="middle" class="tx" style="font-size:24.7px">2 rangées de boutons-pression</text>
<text x="839" y="1040.6" text-anchor="middle" class="tx" style="font-size:24.85px">2 snap buttons rows</text>
<text x="838.9" y="1074.7" text-anchor="middle" class="tx" style="font-size:24.2px">Tailles/Sizes</text>
<rect x="754.1" y="1085.4" width="38.4" height="32" rx="16" ry="16" fill="#fff" stroke="#222" stroke-width="1.4"/>
<text x="773.3" y="1109.9" text-anchor="middle" class="tx">35</text>
<rect x="797.4" y="1085.4" width="38.4" height="32" rx="16" ry="16" fill="#fff" stroke="#222" stroke-width="1.4"/>
<text x="816.6" y="1109.9" text-anchor="middle" class="tx">38</text>
<rect x="841.7" y="1085.4" width="38.4" height="32" rx="16" ry="16" fill="#fff" stroke="#222" stroke-width="1.4"/>
<text x="860.9" y="1109.9" text-anchor="middle" class="tx">41</text>
<rect x="886.4" y="1085.4" width="38.4" height="32" rx="16" ry="16" fill="#fff" stroke="#222" stroke-width="1.4"/>
<text x="905.6" y="1109.9" text-anchor="middle" class="tx">45</text>
</g>
</svg>
<div id="frame"></div>
</body></html>
